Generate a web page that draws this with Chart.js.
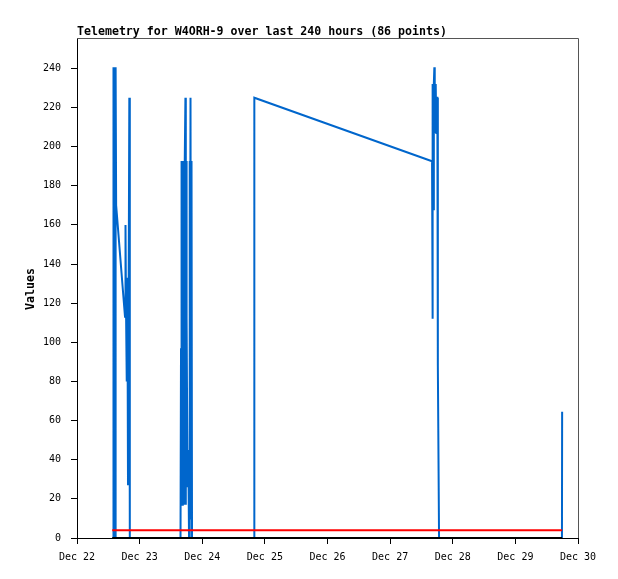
<!DOCTYPE html>
<html>
<head>
<meta charset="utf-8">
<style>
html,body{margin:0;padding:0;background:#fff;}
canvas{display:block;}
</style>
<script src="https://cdn.jsdelivr.net/npm/chart.js@4/dist/chart.umd.min.js"></script>
</head>
<body>
<canvas id="c" width="618" height="579"></canvas>
<script>
// Time in hours since Dec 22 00:00
const xTickLabels = ["Dec 22","Dec 23","Dec 24","Dec 25","Dec 26","Dec 27","Dec 28","Dec 29","Dec 30"];
const yTickValues = [0,20,40,60,80,100,120,140,160,180,200,220,240];

const blueHours = [
  13.80, 13.90, 14.07, 14.20, 14.34, 14.47, 14.60, 14.73, 14.87, 15.00,
  18.40, 18.59, 18.78, 18.97, 19.16, 19.36, 19.55, 20.05, 20.24,
  39.67, 39.86, 40.00, 40.15, 40.32, 40.47, 40.62, 40.77, 40.92, 41.07, 41.22, 41.37, 41.55, 41.70, 41.85, 42.00,
  42.35, 42.66, 42.93, 43.10, 43.30, 43.50, 43.69, 43.89, 44.08,
  67.84, 67.96,
  136.07, 136.18, 136.40, 136.55, 136.75, 136.95, 137.10, 137.25, 137.40, 137.55, 137.70, 137.85, 138.10, 138.29, 138.75,
  185.85, 185.92
];
const blueValues = [
  0, 240.5, 0, 240.5, 0, 240.5, 0, 240.5, 240.5, 170,
  113, 160, 118, 133, 80, 112, 27, 225, 0,
  0, 97, 17, 192.6, 17, 192.6, 17, 192.6, 17, 192.6, 17, 192.6, 225, 17, 192.6, 113,
  26, 45, 0, 192.6, 10, 225, 10, 192.6, 0,
  0, 225,
  192.5, 112, 232, 168, 232, 240.5, 207, 232, 207, 232, 207, 225, 225, 88, 0,
  0, 64.5
];
const redHours = [13.5, 185.9];
const redValues = [4, 4];
const blackHours = [13.5, 185.9];
const blackValues = [0, 0];

function pts(xs, ys){ return xs.map((x,i)=>({x:x, y:ys[i]})); }

const MONO = '"DejaVu Sans Mono", "Liberation Mono", monospace';

const framePlugin = {
  id: 'frame',
  afterDraw(chart){
    const ctx = chart.ctx, a = chart.chartArea;
    ctx.save();
    ctx.strokeStyle = '#555';
    ctx.lineWidth = 1;
    ctx.beginPath();
    ctx.moveTo(a.left, a.top + 0.5);
    ctx.lineTo(a.right + 0.5, a.top + 0.5);
    ctx.lineTo(a.right + 0.5, a.bottom);
    ctx.stroke();
    ctx.fillStyle = '#000';
    ctx.font = 'bold 11.6px ' + MONO;
    ctx.textAlign = 'left';
    ctx.textBaseline = 'alphabetic';
    ctx.fillText('Telemetry for W4ORH-9 over last 240 hours (86 points)', a.left, 35);
    ctx.translate(31, 289);
    ctx.rotate(-Math.PI / 2);
    ctx.textAlign = 'center';
    ctx.textBaseline = 'middle';
    ctx.fillText('Values', 0, 0);
    ctx.restore();
  }
};

new Chart(document.getElementById('c'), {
  type: 'line',
  data: {
    datasets: [
      { label: 'black', data: pts(blackHours, blackValues), borderColor: '#000', borderWidth: 2, pointRadius: 0, order: 0 },
      { label: 'red', data: pts(redHours, redValues), borderColor: '#ff0000', borderWidth: 2, pointRadius: 0, order: 1 },
      { label: 'blue', data: pts(blueHours, blueValues), borderColor: 'rgb(0,102,204)', borderWidth: 2, pointRadius: 0, order: 2 }
    ]
  },
  options: {
    responsive: false,
    animation: false,
    devicePixelRatio: 1,
    layout: { padding: { left: 0, right: 40, top: 38, bottom: 0 } },
    elements: { line: { tension: 0, borderJoinStyle: 'miter', borderCapStyle: 'butt' } },
    plugins: { legend: { display: false }, tooltip: { enabled: false }, title: { display: false } },
    scales: {
      x: {
        type: 'linear',
        min: 0, max: 192,
        afterFit(s){ s.height = 41; },
        afterBuildTicks(s){ s.ticks = xTickLabels.map((_, i) => ({ value: i * 24 })); },
        ticks: {
          autoSkip: false, maxRotation: 0, padding: 7,
          color: '#000',
          font: { family: MONO, size: 10 },
          callback: (v) => xTickLabels[Math.round(v / 24)]
        },
        grid: { drawOnChartArea: false, drawTicks: true, tickLength: 6, color: '#000' },
        border: { display: true, color: '#000', width: 1 }
      },
      y: {
        type: 'linear',
        min: 0, max: 255.5,
        afterFit(s){ s.width = 77; },
        afterBuildTicks(s){ s.ticks = yTickValues.map(v => ({ value: v })); },
        ticks: {
          autoSkip: false, padding: 10,
          color: '#000',
          font: { family: MONO, size: 10 }
        },
        grid: { drawOnChartArea: false, drawTicks: true, tickLength: 6, color: '#000' },
        border: { display: true, color: '#000', width: 1 }
      }
    }
  },
  plugins: [framePlugin]
});
</script>
</body>
</html>
